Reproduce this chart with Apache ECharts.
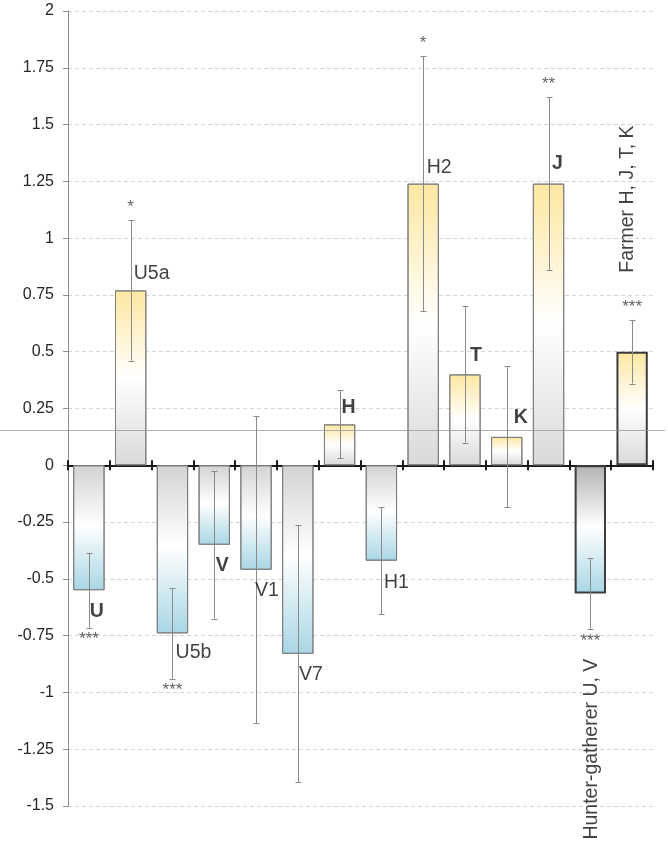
<!DOCTYPE html>
<html>
<head>
<meta charset="utf-8">
<script src="https://cdn.jsdelivr.net/npm/echarts@6/dist/echarts.min.js"></script>
<style>
html,body{margin:0;padding:0;background:#fff;}
#chart{width:668px;height:841px;}
</style>
</head>
<body>
<div id="chart"></div>
<script>
// ---- data ----
var categories = ['U','U5a','U5b','V','V1','V7','H','H1','H2','T','K','J','Hunter-gatherer U, V','Farmer H, J, T, K'];
var values     = [-0.55, 0.77, -0.74, -0.35, -0.46, -0.83, 0.18, -0.42, 1.24, 0.40, 0.125, 1.24, -0.565, 0.50];
var errors     = [0.165, 0.31, 0.20, 0.325, 0.675, 0.565, 0.15, 0.235, 0.56, 0.30, 0.31, 0.38, 0.155, 0.14];
var stars      = ['***','*','***','','','','','','*','','','**','***','***'];
var boldLabel  = [true,false,false,true,false,false,true,false,false,true,true,true,false,false];
var groupBar   = [false,false,false,false,false,false,false,false,false,false,false,false,true,true];
var refLine    = 0.155;
var yTicks     = {min:-1.5, max:2, interval:0.25};

// ---- styles ----
// offsets in screen pixels [dx, dy] from the bar end
var labelOffsets = [[8,21],[21,-17],[21,19],[8,21],[11,21],[13,21],[9,-17],[15,22],[16,-16],[11,-19],[14,-19],[9,-20],[1,65],[-4,-79]];
var FONT = "'Liberation Sans', Arial, sans-serif";

function posGrad(){
  return new echarts.graphic.LinearGradient(0,0,0,1,[
    {offset:0,color:'#fde7a0'},{offset:0.5,color:'#ffffff'},{offset:1,color:'#d9d9d9'}]);
}
function negGrad(dark){
  return new echarts.graphic.LinearGradient(0,0,0,1,[
    {offset:0,color: dark ? '#b3b3b3' : '#d3d3d3'},{offset:0.48,color:'#ffffff'},{offset:1,color:'#a8d6e4'}]);
}

var barData = values.map(function(v,i){
  return {
    value: v,
    itemStyle: {
      color: v >= 0 ? posGrad() : negGrad(groupBar[i]),
      borderColor: groupBar[i] ? '#3d3d3d' : '#7f7f7f',
      borderWidth: groupBar[i] ? 2 : 1
    }
  };
});

var errData = values.map(function(v,i){ return [i, v - errors[i], v + errors[i]]; });

var nameData = values.map(function(v,i){
  var rot = groupBar[i];
  var off = labelOffsets[i];
  return {
    value: [i, v],
    label: {
      show: true,
      formatter: categories[i],
      // rotated labels take their offset in the rotated frame
      offset: rot ? [-off[1], off[0]] : off,
      fontWeight: boldLabel[i] ? 'bold' : 'normal',
      rotate: rot ? 90 : 0,
      align: rot ? (v < 0 ? 'right' : 'left') : 'center',
      verticalAlign: 'middle'
    }
  };
});

var starData = values.map(function(v,i){
  var end = v >= 0 ? v + errors[i] : v - errors[i];
  return {
    value: [i, end],
    label: { show: stars[i] !== '', formatter: stars[i], offset: [0, v >= 0 ? -13 : 12] }
  };
});

var chart = echarts.init(document.getElementById('chart'), null, {renderer:'canvas'});
var option = {
  animation: false,
  backgroundColor: '#ffffff',
  textStyle: {fontFamily: FONT},
  grid: {left: 68, right: 15, top: 11, bottom: 35, containLabel: false},
  xAxis: [{
    type: 'category', data: categories, position: 'bottom',
    axisLine: {show: true, onZero: true, onZeroAxisIndex: 0, lineStyle: {color: '#1a1a1a', width: 2}},
    axisTick: {show: true, interval: 0, length: 5, lineStyle: {color: '#1a1a1a', width: 2}},
    axisLabel: {show: false, interval: 0}, splitLine: {show: false}
  },{
    type: 'category', data: categories, position: 'top',
    axisLine: {show: true, onZero: true, onZeroAxisIndex: 0, lineStyle: {color: '#1a1a1a', width: 2}},
    axisTick: {show: true, interval: 0, length: 5, lineStyle: {color: '#1a1a1a', width: 2}},
    axisLabel: {show: false, interval: 0}, splitLine: {show: false}
  }],
  yAxis: {
    type: 'value', min: yTicks.min, max: yTicks.max, interval: yTicks.interval,
    axisLine: {show: true, lineStyle: {color: '#8c8c8c', width: 1}},
    axisTick: {show: true, length: 5, lineStyle: {color: '#8c8c8c'}},
    axisLabel: {color: '#262626', fontSize: 16, margin: 14, fontFamily: FONT},
    splitLine: {show: true, lineStyle: {color: '#d4d4d4', type: [4,3], width: 1}}
  },
  series: [{
    type: 'bar', data: barData, barCategoryGap: '25%', z: 2
  },{
    type: 'custom', z: 3,
    data: errData,
    encode: {x: 0, y: [1, 2]},
    renderItem: function(params, api){
      var lo = api.coord([api.value(0), api.value(1)]);
      var hi = api.coord([api.value(0), api.value(2)]);
      var x = Math.round(lo[0]) + 0.5;
      var st = {stroke: '#8a8a8a', lineWidth: 1};
      return {type: 'group', children: [
        {type: 'line', shape: {x1: x, y1: lo[1], x2: x, y2: hi[1]}, style: st},
        {type: 'line', shape: {x1: x-3, y1: Math.round(lo[1])+0.5, x2: x+3, y2: Math.round(lo[1])+0.5}, style: st},
        {type: 'line', shape: {x1: x-3, y1: Math.round(hi[1])+0.5, x2: x+3, y2: Math.round(hi[1])+0.5}, style: st}
      ]};
    }
  },{
    type: 'scatter', data: nameData, symbolSize: 0, z: 5, silent: true,
    label: {show: true, color: '#111111', fontSize: 19.5, fontFamily: FONT}
  },{
    type: 'scatter', data: starData, symbolSize: 0, z: 5, silent: true,
    label: {show: true, color: '#3a3a3a', fontSize: 17, fontFamily: FONT, align: 'center', verticalAlign: 'middle'}
  }]
};
chart.setOption(option);
var ry = Math.round(chart.convertToPixel({yAxisIndex: 0}, refLine)) + 0.5;
chart.setOption({graphic: [{
  type: 'line', z: 10, silent: true,
  shape: {x1: 0, y1: ry, x2: 665, y2: ry},
  style: {stroke: 'rgba(150,150,150,0.75)', lineWidth: 1}
}]});
</script>
</body>
</html>
